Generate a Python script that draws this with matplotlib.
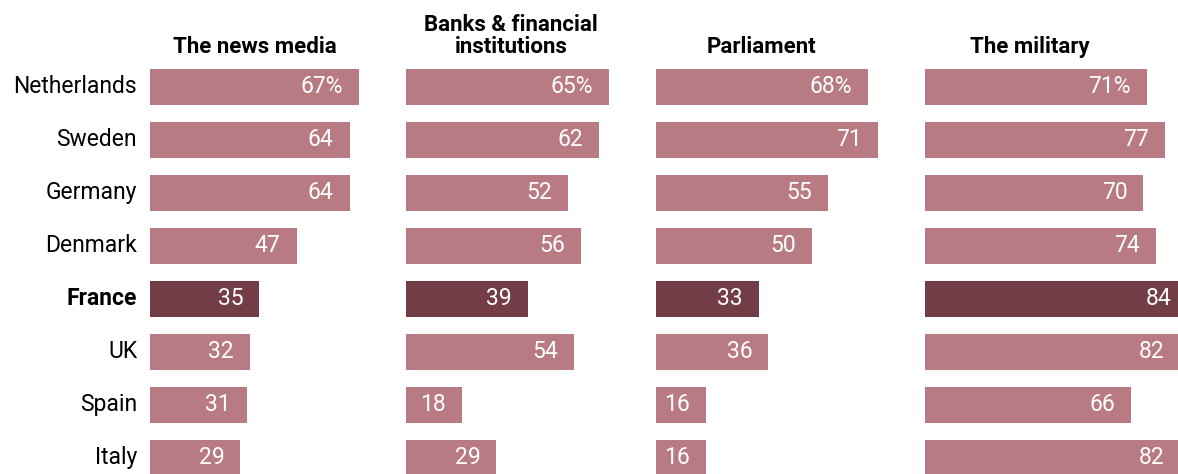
import matplotlib.pyplot as plt

# Share who trust each institution, by country
countries = ["Netherlands", "Sweden", "Germany", "Denmark",
             "France", "UK", "Spain", "Italy"]
institutions = ["The news media", "Banks & financial\ninstitutions",
                "Parliament", "The military"]
news_media = [67, 64, 64, 47, 35, 32, 31, 29]
banks = [65, 62, 52, 56, 39, 54, 18, 29]
parliament = [68, 71, 55, 50, 33, 36, 16, 16]
military = [71, 77, 70, 74, 84, 82, 66, 82]
highlight = "France"

LIGHT = "#B87B84"
DARK = "#723D47"

plt.rcParams['font.family'] = ['Roboto', 'DejaVu Sans']

W, H = 1178, 474
fig = plt.figure(figsize=(W / 100, H / 100), dpi=100)

px_per_pct = 3.12
panel_left = [150, 406, 656, 925]
panel_width = 300  # last panel runs off the right edge
row_px = 53.0
first_row_px = 86.5

series = [news_media, banks, parliament, military]
for k, (name, vals) in enumerate(zip(institutions, series)):
    ax = fig.add_axes([panel_left[k] / W, 0, panel_width / W, 1])
    ax.set_xlim(0, panel_width / px_per_pct)
    ax.set_ylim((H - first_row_px) / row_px, -first_row_px / row_px)
    ax.axis("off")
    colors = [DARK if c == highlight else LIGHT for c in countries]
    ax.barh(range(len(countries)), vals, height=36 / row_px, color=colors)
    for i, v in enumerate(vals):
        label = f"{v}%" if i == 0 else f"{v}"
        ax.text(v - 16 / px_per_pct, i, label, ha="right", va="center",
                color="white", fontsize=16.5)
    ax.text(105 / px_per_pct, -0.54, name, ha="center", va="bottom",
            fontsize=16, fontweight="bold", linespacing=1.0)
    if k == 0:
        for i, c in enumerate(countries):
            ax.text(-13 / px_per_pct, i, c, ha="right", va="center",
                    fontsize=16.5, color="black",
                    fontweight="bold" if c == highlight else "normal")

fig.savefig("out.png", dpi=100)
